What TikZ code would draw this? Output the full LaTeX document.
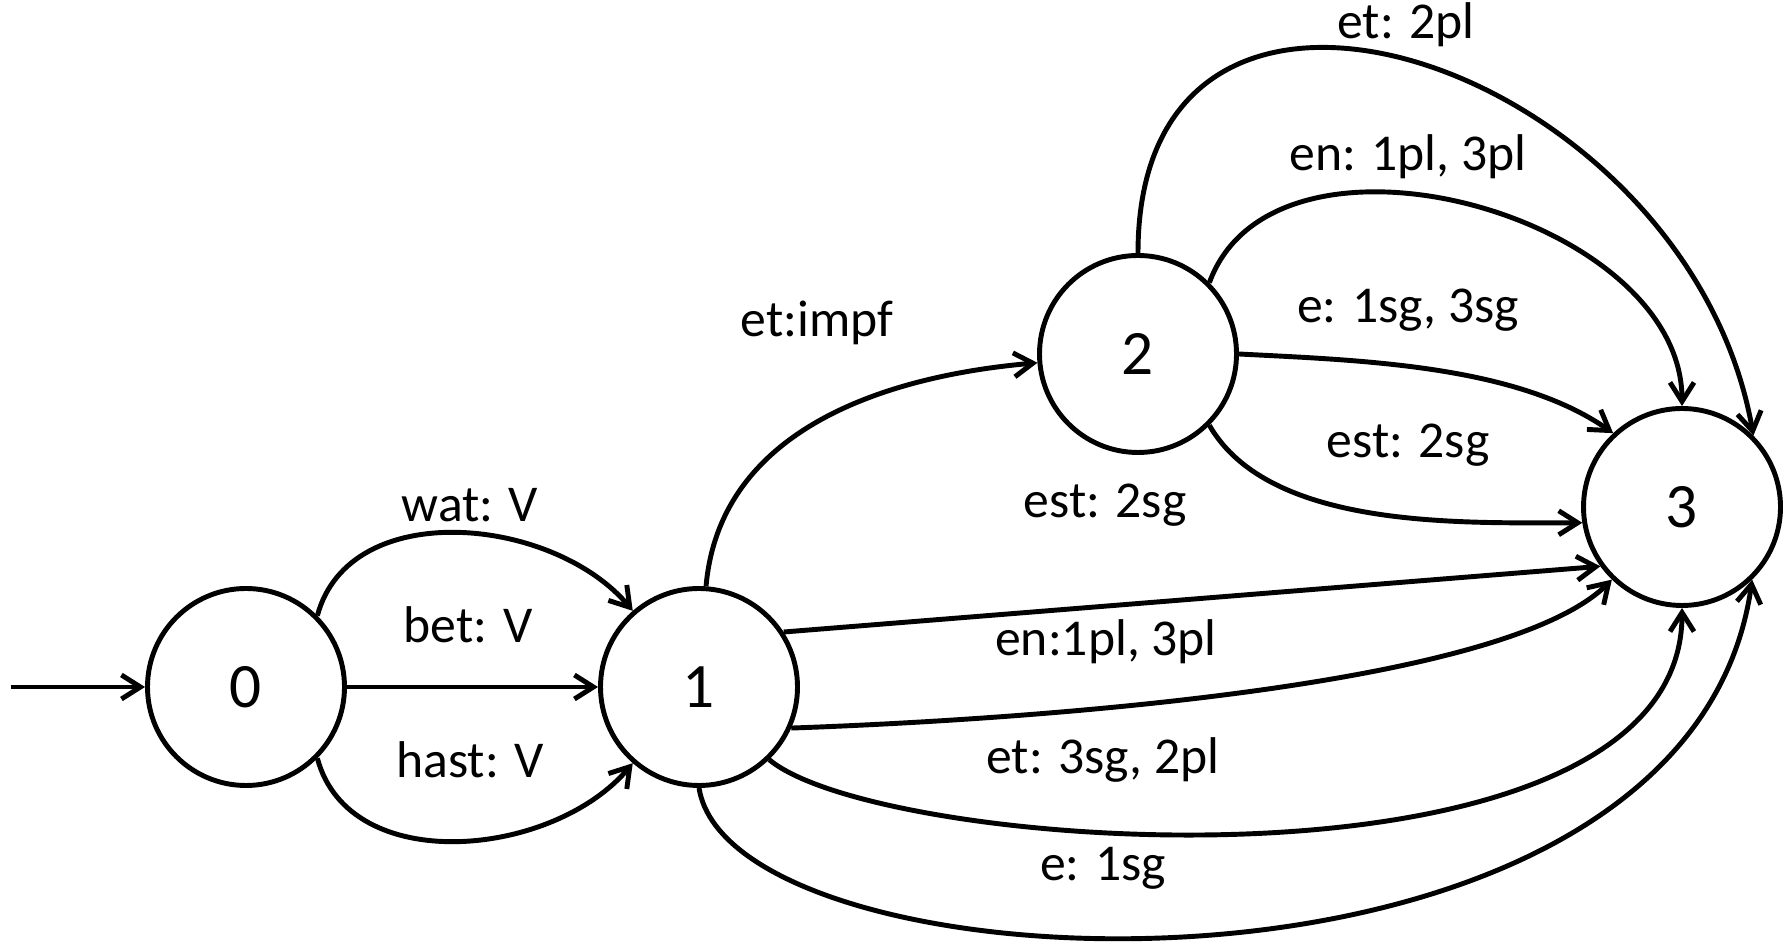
\documentclass[tikz,border=0pt]{standalone}
\usepackage{fontspec}
\setmainfont{Carlito}
\usetikzlibrary{arrows.meta}
\tikzstyle{st}=[draw=black,line width=1.4pt,circle,minimum size=1.97cm,inner sep=0pt,font=\fontsize{18}{20}\selectfont]
\tikzstyle{lbl}=[font=\fontsize{14.7}{17}\selectfont,inner sep=0pt]
\tikzstyle{edge}=[draw=black,line width=1.4pt,-{Straight Barb[length=1.9mm,width=2.4mm]}]

\begin{document}
\begin{tikzpicture}
  \useasboundingbox (0,0) rectangle (17.87,9.5);
  \node [st] (n0) at (2.46,2.63) {0};
  \node [st] (n1) at (6.99,2.63) {1};
  \node [st] (n2) at (11.38,5.96) {2};
  \node [st] (n3) at (16.82,4.43) {3};
  \coordinate (init) at (0.11,2.63);

  \draw [edge] (init) -- (n0);
  \draw [edge] (n0.45) to[out=75,in=130] (n1.131);
  \draw [edge] (n0) -- (n1);
  \draw [edge] (n0.-45) to[out=-75,in=-130] (n1.-131);
  \draw [edge] (n1.86) to[out=85,in=185] (n2.185);
  \draw [edge] (n1.33) -- (n3.216);
  \draw [edge] (n1.-24) to[out=2,in=225,looseness=0.5] (n3.226);
  \draw [edge] (n1.-46) to[out=-40,in=-90,out looseness=0.41,in looseness=0.83] (n3.-90);
  \draw [edge] (n1.-90) to[out=-81,in=-98,out looseness=0.51,in looseness=1.1] (n3.-46);
  \draw [edge] (n2.90) to[out=90,in=100,looseness=1.5] (n3.45);
  \draw [edge] (n2.45) to[out=70,in=90] (n3.90);
  \draw [edge] (n2.0) to[out=-3,in=145,looseness=0.8] (n3.133);
  \draw [edge] (n2.-45) to[out=-60,in=180,looseness=0.8] (n3.189);

  \node [lbl] (l01a) at (4.70,4.45) {wat: V};
  \node [lbl] (l01b) at (4.68,3.25) {bet: V};
  \node [lbl] (l01c) at (4.70,1.90) {hast: V};
  \node [lbl] (l12) at (8.17,6.27) {et:impf};
  \node [lbl] (l13a) at (11.05,4.45) {est: 2sg};
  \node [lbl] (l13b) at (11.06,3.08) {en:1pl, 3pl};
  \node [lbl] (l13c) at (11.03,1.90) {et: 3sg, 2pl};
  \node [lbl] (l13d) at (11.03,0.82) {e: 1sg};
  \node [lbl] (l23a) at (14.06,9.25) {et: 2pl};
  \node [lbl] (l23b) at (14.08,7.93) {en: 1pl, 3pl};
  \node [lbl] (l23c) at (14.08,6.40) {e: 1sg, 3sg};
  \node [lbl] (l23d) at (14.08,5.05) {est: 2sg};
\end{tikzpicture}
\end{document}
